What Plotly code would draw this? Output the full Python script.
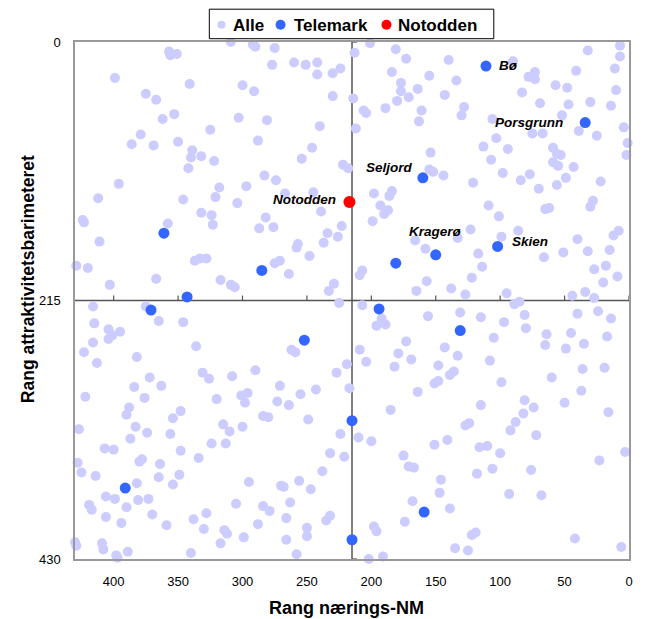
import plotly.graph_objects as go

# ---------------- data ----------------
# Rang nærings-NM (x) and Rang attraktivitetsbarimeteret (y), all municipalities
alle_x = [
    309, 292, 290, 275, 357, 356, 351, 277, 260, 251, 242, 242, 230, 224, 399, 341, 300, 291, 375, 367,
    230, 362, 353, 303, 281, 240, 325, 379, 386, 369, 350, 288, 246, 339, 340, 332, 322, 342, 254, 222,
    218, 283, 274, 396, 318, 297, 321, 267, 245, 412, 346, 304, 239, 424, 423, 332, 324, 323, 358, 282,
    287, 276, 223, 234, 226, 411, 237, 257, 258, 248, 337, 333, 328, 429, 420, 271, 275, 264, 367, 403,
    317, 309, 306, 229, 233,
    201, 213, 181, 173, 140, 90, 32, 7, 7, 184, 155, 134, 177, 177, 164, 171, 180, 143, 78, 73,
    73, 41, 11, 57, 48, 83, 10, 214, 189, 161, 128, 130, 69, 47, 30, 14, 206, 204, 163, 106,
    52, 212, 75, 67, 39, 25, 4, 103, 113, 94, 59, 56, 53, 1, 2, 154, 107, 59, 55, 43,
    155, 152, 144, 98, 84, 77, 121, 49, 56, 22, 70, 198, 186, 184, 193, 190, 187, 109, 101, 65,
    62, 28, 30, 199, 86, 123, 166, 158, 133, 99, 40, 12, 8, 117, 66, 51, 32, 15, 207, 209,
    114, 27, 18, 122, 157, 165, 138, 127, 95, 34, 20, 9, 44, 27,
    416, 375, 225, 365, 346, 415, 404, 395, 401, 404, 416, 423, 336, 262, 259, 413, 382, 219, 227, 331,
    326, 308, 290, 372, 363, 384, 271, 422, 376, 320, 301, 296, 298, 273, 264, 255, 243, 217, 388, 390,
    348, 354, 284, 280, 249, 427, 383, 374, 387, 356, 315, 310, 300, 313, 324, 224, 407, 400, 348, 334,
    380, 378, 428, 425, 364, 232, 221, 238, 414, 365, 349, 354, 382, 295, 270, 268, 256, 247, 406, 399,
    381, 373, 419, 417, 390, 370, 406, 394, 359, 338, 328, 305, 284, 279, 263, 266, 288, 330, 314, 312,
    250, 250, 235, 232, 430, 429, 409, 408, 398, 397, 389, 340, 317, 299, 266, 258,
    207, 192, 196, 189, 156, 131, 115, 97, 89, 85, 81, 80, 40, 24, 14, 173, 143, 105, 64, 65,
    45, 49, 35, 17, 209, 204, 179, 169, 182, 148, 133, 108, 139, 136, 151, 148, 99, 60, 36, 19,
    164, 37, 81, 74, 115, 82, 50, 16, 185, 88, 92, 127, 124, 72, 210, 200, 151, 141, 116, 110,
    100, 175, 171, 167, 118, 106, 76, 23, 3, 146, 147, 93, 68, 168, 139, 174, 198, 196, 122, 119,
    42, 6, 202, 191, 135, 125,
]
alle_y = [
    0, 2, 4, 5, 8, 11, 10, 19, 17, 19, 17, 27, 26, 22, 30, 35, 36, 41, 43, 48,
    45, 64, 60, 63, 65, 70, 73, 77, 85, 86, 83, 82, 88, 90, 96, 95, 99, 105, 97, 102,
    105, 111, 115, 118, 121, 120, 129, 126, 125, 130, 131, 134, 141, 148, 150, 142, 144, 152, 151, 146,
    155, 154, 153, 159, 162, 166, 167, 168, 171, 178, 182, 180, 180, 186, 188, 182, 184, 193, 197, 202,
    198, 202, 204, 201, 207,
    1, 9, 6, 14, 15, 16, 7, 3, 12, 25, 28, 32, 34, 41, 39, 46, 49, 44, 29, 25,
    31, 24, 22, 36, 38, 42, 40, 47, 55, 57, 54, 61, 51, 52, 50, 53, 57, 59, 66, 64,
    61, 72, 76, 76, 74, 78, 71, 80, 87, 89, 88, 93, 94, 84, 94, 92, 98, 100, 103, 104,
    106, 108, 111, 109, 115, 110, 117, 113, 119, 116, 122, 126, 128, 124, 136, 143, 140, 136, 145, 139,
    138, 132, 137, 149, 157, 156, 165, 172, 163, 162, 164, 161, 157, 176, 179, 175, 174, 173, 190, 194,
    187, 189, 186, 196, 199, 207, 205, 210, 209, 208, 200, 195, 211, 213,
    220, 220, 217, 232, 233, 234, 239, 241, 244, 247, 250, 258, 253, 256, 258, 267, 262, 268, 275, 275,
    280, 278, 273, 279, 286, 287, 286, 295, 296, 297, 294, 292, 300, 299, 302, 293, 289, 288, 304, 310,
    307, 313, 311, 312, 314, 322, 320, 325, 330, 326, 318, 324, 320, 334, 334, 326, 338, 339, 340, 346,
    349, 347, 350, 358, 351, 342, 345, 357, 361, 362, 360, 368, 367, 366, 369, 370, 365, 372, 378, 380,
    381, 380, 385, 389, 387, 393, 395, 400, 402, 397, 392, 384, 386, 390, 383, 396, 401, 405, 406, 409,
    404, 411, 398, 394, 416, 419, 417, 422, 427, 429, 424, 425, 417, 412, 414, 426,
    219, 230, 236, 235, 228, 225, 229, 233, 218, 216, 227, 238, 226, 224, 230, 249, 254, 246, 243, 252,
    242, 255, 251, 245, 256, 266, 259, 264, 270, 269, 261, 265, 277, 274, 284, 282, 283, 279, 272, 271,
    291, 290, 298, 304, 302, 309, 300, 308, 306, 316, 323, 319, 317, 327, 329, 332, 335, 331, 337, 336,
    342, 344, 353, 354, 359, 355, 356, 348, 341, 364, 375, 376, 377, 382, 388, 399, 403, 407, 410, 408,
    413, 420, 430, 428, 421, 423,
]

telemark_names = ["Bø", "Porsgrunn", "Seljord", "Skien", "Kragerø", "", "", "", "", "", "", "", "", "", "", "", ""]
telemark_x = [111, 34, 160, 102, 150, 181, 361, 285, 343, 371, 194, 252, 131, 215, 391, 159, 215]
telemark_y = [20, 67, 113, 170, 177, 184, 159, 190, 212, 223, 222, 248, 240, 315, 371, 391, 414]

notodden_name = ["Notodden"]
notodden_x = [217]
notodden_y = [133]

x_ticks = [400, 350, 300, 250, 200, 150, 100, 50, 0]
y_ticks = [0, 215, 430]
axis_max = 430
axis_cross = 215

legend_labels = ["Alle", "Telemark", "Notodden"]

# ---------------- styles ----------------
FONT = "Liberation Sans, Arial, sans-serif"
C_ALLE = "#CCCCFF"
C_TEL = "#3366FF"
C_NOT = "#FF0000"

# The page body has an 8px margin; the figure is sized so that the
# plot area lands at page pixels x 74.7-630.7, y 42.3-559.3.
OFF = 8
W, H = 645 - OFF, 619 - OFF
ML, MT = 74.7 - OFF, 42.3 - OFF
MR = W - (630.7 - OFF)
MB = H - (559.3 - OFF)
PW, PH = W - ML - MR, H - MT - MB


def px_to_paper_x(px):  # page pixel -> paper
    return (px - OFF - ML) / PW


def px_to_paper_y(py):
    return 1 - (py - OFF - MT) / PH


fig = go.Figure()

fig.add_trace(go.Scatter(
    x=alle_x, y=alle_y, mode="markers", name=legend_labels[0],
    marker=dict(color=C_ALLE, size=10, line=dict(width=0)),
    cliponaxis=False, showlegend=False, hoverinfo="x+y",
))
fig.add_trace(go.Scatter(
    x=telemark_x, y=telemark_y, mode="markers", name=legend_labels[1],
    marker=dict(color=C_TEL, size=11, line=dict(width=0)),
    cliponaxis=False, showlegend=False, text=telemark_names,
))
fig.add_trace(go.Scatter(
    x=notodden_x, y=notodden_y, mode="markers", name=legend_labels[2],
    marker=dict(color=C_NOT, size=12, line=dict(width=0)),
    cliponaxis=False, showlegend=False, text=notodden_name,
))

# data labels (placement styles per name)
label_style = {
    "Bø": dict(xanchor="left", yanchor="middle", xshift=11, yshift=1),
    "Porsgrunn": dict(xanchor="right", yanchor="middle", xshift=-20, yshift=0),
    "Seljord": dict(xanchor="right", yanchor="middle", xshift=-8, yshift=10),
    "Skien": dict(xanchor="left", yanchor="middle", xshift=12, yshift=5),
    "Kragerø": dict(xanchor="center", yanchor="middle", xshift=0, yshift=23),
    "Notodden": dict(xanchor="right", yanchor="middle", xshift=-11, yshift=2),
}
annotations = []
for nm, xv, yv in list(zip(telemark_names, telemark_x, telemark_y)) + list(zip(notodden_name, notodden_x, notodden_y)):
    if not nm:
        continue
    st = label_style[nm]
    annotations.append(dict(
        x=xv, y=yv, xref="x", yref="y", text=nm, showarrow=False,
        font=dict(family=FONT, size=13.5, color="#000000", weight="bold", style="italic"),
        **st,
    ))

# axis titles
annotations.append(dict(
    x=px_to_paper_x(347), y=px_to_paper_y(608), xref="paper", yref="paper",
    text="Rang nærings-NM", showarrow=False, xanchor="center", yanchor="middle",
    font=dict(family=FONT, size=18, color="#000000", weight="bold"),
))
annotations.append(dict(
    x=px_to_paper_x(27), y=px_to_paper_y(279), xref="paper", yref="paper",
    text="Rang attraktivitetsbarimeteret", showarrow=False, textangle=-90,
    xanchor="center", yanchor="middle",
    font=dict(family=FONT, size=17.5, color="#000000", weight="bold"),
))

# custom legend
leg_marker_px = [221.7, 281, 387.3]
leg_text_px = [231, 292, 397]
leg_colors = [C_ALLE, C_TEL, C_NOT]
leg_sizes = [4, 5, 5]
leg_cy = 25
shapes = []
shapes.append(dict(
    type="rect", xref="paper", yref="paper",
    x0=px_to_paper_x(209.5), x1=px_to_paper_x(495), y0=px_to_paper_y(39), y1=px_to_paper_y(9.5),
    line=dict(color="#000000", width=1), fillcolor="#FFFFFF", layer="above",
))
for lab, mx, tx, col, r in zip(legend_labels, leg_marker_px, leg_text_px, leg_colors, leg_sizes):
    shapes.append(dict(
        type="circle", xref="paper", yref="paper", xsizemode="pixel", ysizemode="pixel",
        xanchor=px_to_paper_x(mx), yanchor=px_to_paper_y(leg_cy), x0=-r, x1=r, y0=-r, y1=r,
        fillcolor=col, line=dict(width=0), layer="above",
    ))
    annotations.append(dict(
        x=px_to_paper_x(tx), y=px_to_paper_y(leg_cy + 0.5), xref="paper", yref="paper",
        text=lab, showarrow=False, xanchor="left", yanchor="middle",
        font=dict(family=FONT, size=17, color="#000000", weight="bold"),
    ))

# crossing axis lines at 215
CROSS = "#555555"
shapes.append(dict(type="line", xref="x", yref="y", x0=axis_cross, x1=axis_cross, y0=0, y1=axis_max,
                   line=dict(color=CROSS, width=1.5), layer="below"))
shapes.append(dict(type="line", xref="x", yref="y", x0=axis_max, x1=0, y0=axis_cross, y1=axis_cross,
                   line=dict(color=CROSS, width=1.5), layer="below"))
# tick marks on the crossing lines
for t in x_ticks:
    shapes.append(dict(type="line", xref="x", yref="y", ysizemode="pixel", yanchor=axis_cross,
                       x0=t, x1=t, y0=0, y1=5, line=dict(color=CROSS, width=1.2), layer="below"))
for t in y_ticks:
    shapes.append(dict(type="line", xref="x", yref="y", xsizemode="pixel", xanchor=axis_cross,
                       x0=0, x1=5, y0=t, y1=t, line=dict(color=CROSS, width=1.2), layer="below"))

fig.update_layout(
    width=W, height=H,
    margin=dict(l=ML, r=MR, t=MT, b=MB, pad=0),
    paper_bgcolor="#FFFFFF", plot_bgcolor="#FFFFFF",
    font=dict(family=FONT, size=13, color="#000000"),
    showlegend=False,
    annotations=annotations,
    shapes=shapes,
    xaxis=dict(
        range=[axis_max, 0], autorange=False, tickmode="array", tickvals=x_ticks,
        ticktext=[str(v) for v in x_ticks], showgrid=False, zeroline=False,
        showline=True, mirror=True, linecolor="#999999", linewidth=1.5, ticks="",
        tickfont=dict(family=FONT, size=13, color="#000000"), ticklabelstandoff=10,
    ),
    yaxis=dict(
        range=[axis_max, 0], autorange=False, tickmode="array", tickvals=y_ticks,
        ticktext=[str(v) for v in y_ticks], showgrid=False, zeroline=False,
        showline=True, mirror=True, linecolor="#999999", linewidth=1.5, ticks="",
        tickfont=dict(family=FONT, size=13, color="#000000"), ticklabelstandoff=10,
    ),
)

fig.write_html("out.html")
